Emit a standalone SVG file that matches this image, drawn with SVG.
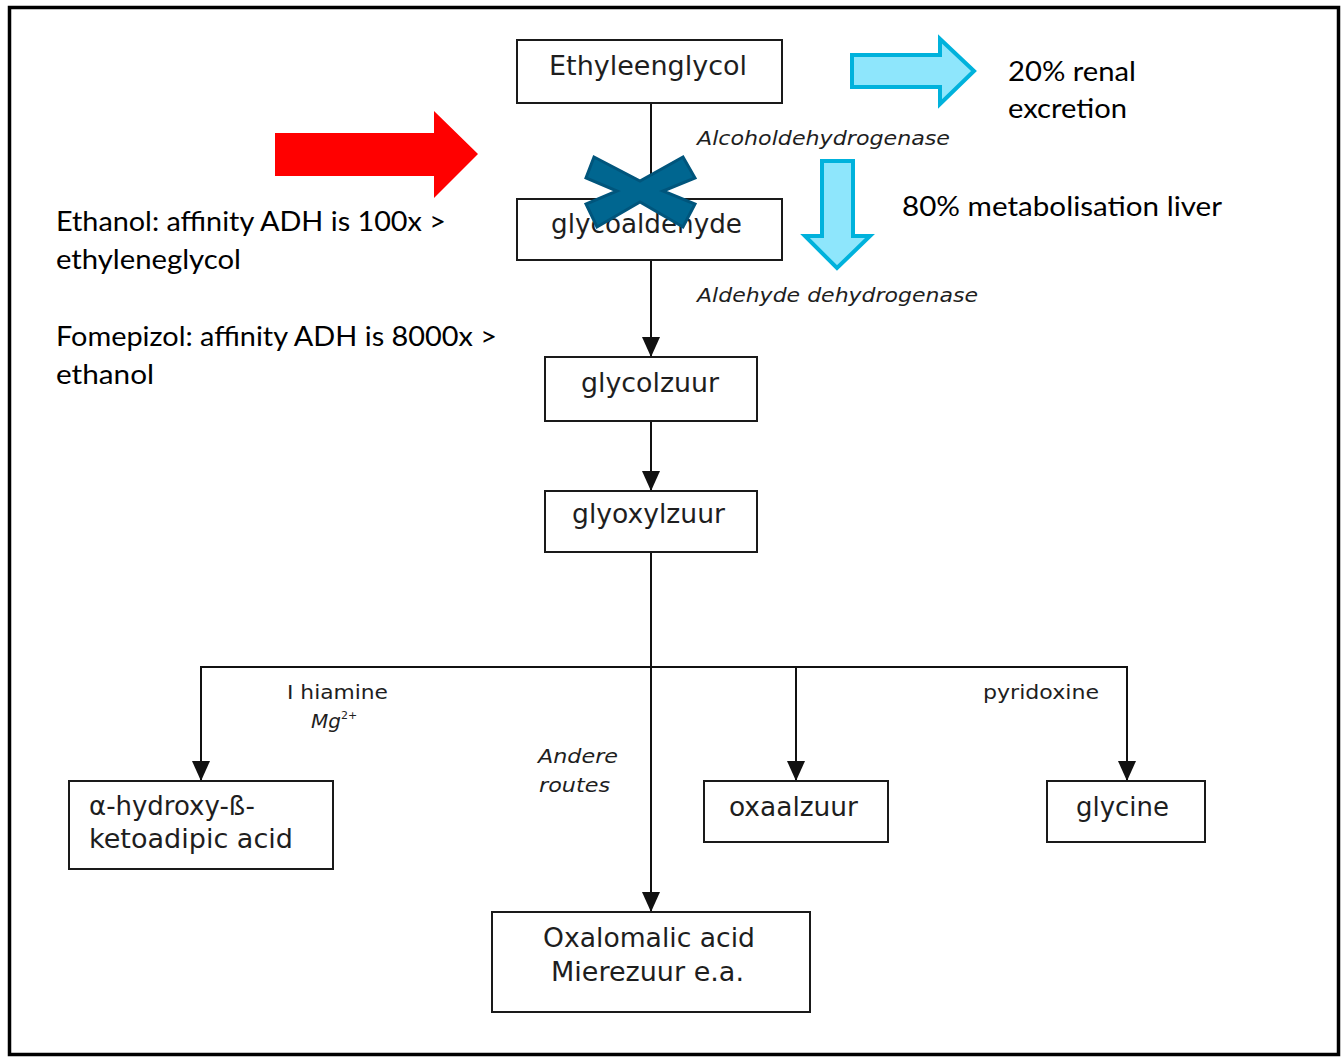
<svg xmlns="http://www.w3.org/2000/svg" width="1342" height="1058" viewBox="0 0 1342 1058">
<defs>
<style>
.box{fill:#fff;stroke:#1a1a1a;stroke-width:2}
.nl{font-family:"DejaVu Sans",Verdana,sans-serif;font-size:26px;fill:#1e1e1e}
.it{font-family:"DejaVu Sans",Verdana,sans-serif;font-size:20px;font-style:italic;fill:#1e1e1e}
.sm{font-family:"DejaVu Sans",Verdana,sans-serif;font-size:20px;fill:#1e1e1e}
.cal{font-family:Lato,"Liberation Sans",sans-serif;font-size:27px;fill:#000}
.ln{fill:none;stroke:#111;stroke-width:2}
.blue{fill:#8ee6fc;stroke:#00b2dc;stroke-width:4;stroke-linejoin:miter}
</style>
<marker id="ah" markerUnits="userSpaceOnUse" viewBox="0 0 20 18" refX="20" refY="9" markerWidth="20" markerHeight="18" orient="auto">
<path d="M0,0 L20,9 L0,18 z" fill="#111"/>
</marker>
</defs>
<rect x="0" y="0" width="1342" height="1058" fill="#fff"/>
<rect x="9.5" y="7.5" width="1329" height="1047" fill="#fff" stroke="#000" stroke-width="3.5"/>

<g id="connectors">
<line class="ln" x1="651" y1="103" x2="651" y2="199" marker-end="url(#ah)"/>
<line class="ln" x1="651" y1="260" x2="651" y2="357" marker-end="url(#ah)"/>
<line class="ln" x1="651" y1="421" x2="651" y2="491" marker-end="url(#ah)"/>
<line class="ln" x1="651" y1="552" x2="651" y2="912" marker-end="url(#ah)"/>
<line class="ln" x1="201" y1="667" x2="1127" y2="667"/>
<line class="ln" x1="201" y1="666" x2="201" y2="781" marker-end="url(#ah)"/>
<line class="ln" x1="1127" y1="666" x2="1127" y2="781" marker-end="url(#ah)"/>
<line class="ln" x1="796" y1="667" x2="796" y2="781" marker-end="url(#ah)"/>
<text class="it" x="697" y="145" textLength="253" lengthAdjust="spacingAndGlyphs">Alcoholdehydrogenase</text>
<text class="it" x="697" y="302" textLength="281" lengthAdjust="spacingAndGlyphs">Aldehyde dehydrogenase</text>
<text class="sm" x="287" y="699" textLength="101" lengthAdjust="spacingAndGlyphs">I hiamine</text>
<text class="it" x="311" y="728">Mg<tspan font-size="11" dy="-9" font-style="normal">2+</tspan></text>
<text class="it" x="538" y="763" textLength="80" lengthAdjust="spacingAndGlyphs">Andere</text>
<text class="it" x="539" y="792" textLength="71" lengthAdjust="spacingAndGlyphs">routes</text>
<text class="sm" x="983" y="699" textLength="116" lengthAdjust="spacingAndGlyphs">pyridoxine</text>
</g>

<g id="n-ethyleenglycol">
<rect class="box" x="517" y="40" width="265" height="63"/>
<text class="nl" x="549" y="75" textLength="198" lengthAdjust="spacingAndGlyphs">Ethyleenglycol</text>
</g>
<g id="n-glycoaldehyde">
<rect class="box" x="517" y="199" width="265" height="61"/>
<text class="nl" x="551" y="233" textLength="191" lengthAdjust="spacingAndGlyphs">glycoaldehyde</text>
</g>
<g id="n-glycolzuur">
<rect class="box" x="545" y="357" width="212" height="64"/>
<text class="nl" x="581" y="392" textLength="138" lengthAdjust="spacingAndGlyphs">glycolzuur</text>
</g>
<g id="n-glyoxylzuur">
<rect class="box" x="545" y="491" width="212" height="61"/>
<text class="nl" x="572" y="523" textLength="153" lengthAdjust="spacingAndGlyphs">glyoxylzuur</text>
</g>
<g id="n-hydroxy">
<rect class="box" x="69" y="781" width="264" height="88"/>
<text class="nl" x="89" y="815" textLength="166" lengthAdjust="spacingAndGlyphs">α-hydroxy-ß-</text>
<text class="nl" x="89" y="848" textLength="204" lengthAdjust="spacingAndGlyphs">ketoadipic acid</text>
</g>
<g id="n-oxalomalic">
<rect class="box" x="492" y="912" width="318" height="100"/>
<text class="nl" x="543" y="947" textLength="212" lengthAdjust="spacingAndGlyphs">Oxalomalic acid</text>
<text class="nl" x="551" y="981" textLength="193" lengthAdjust="spacingAndGlyphs">Mierezuur e.a.</text>
</g>
<g id="n-oxaalzuur">
<rect class="box" x="704" y="781" width="184" height="61"/>
<text class="nl" x="729" y="816" textLength="129" lengthAdjust="spacingAndGlyphs">oxaalzuur</text>
</g>
<g id="n-glycine">
<rect class="box" x="1047" y="781" width="158" height="61"/>
<text class="nl" x="1076" y="816" textLength="93" lengthAdjust="spacingAndGlyphs">glycine</text>
</g>

<g id="notes">
<text class="cal" x="1008" y="81" textLength="128" lengthAdjust="spacingAndGlyphs">20% renal</text>
<text class="cal" x="1008" y="118" textLength="119" lengthAdjust="spacingAndGlyphs">excretion</text>
<text class="cal" x="902" y="216" textLength="320" lengthAdjust="spacingAndGlyphs">80% metabolisation liver</text>
<text class="cal" x="56" y="231" textLength="390" lengthAdjust="spacingAndGlyphs">Ethanol: affinity ADH is 100x &gt;</text>
<text class="cal" x="56" y="269" textLength="185" lengthAdjust="spacingAndGlyphs">ethyleneglycol</text>
<text class="cal" x="56" y="346" textLength="441" lengthAdjust="spacingAndGlyphs">Fomepizol: affinity ADH is 8000x &gt;</text>
<text class="cal" x="56" y="384" textLength="98" lengthAdjust="spacingAndGlyphs">ethanol</text>
</g>

<g id="arrows">
<polygon class="blue" points="852,55 940,55 940,39 974,71 940,104 940,87 852,87"/>
<polygon class="blue" points="822,161 853,161 853,236 870,236 837,268 805,236 822,236"/>
<polygon fill="#ff0000" points="275,133 434,133 434,111 478,154 434,198 434,176 275,176"/>
<polygon fill="#006690" stroke="#00557c" stroke-width="3" stroke-linejoin="miter" points="594,157 640,181 683,157 695,178 663,191 695,204 683,227 640,202 597,227 586,204 617,191 586,178"/>
</g>
</svg>
